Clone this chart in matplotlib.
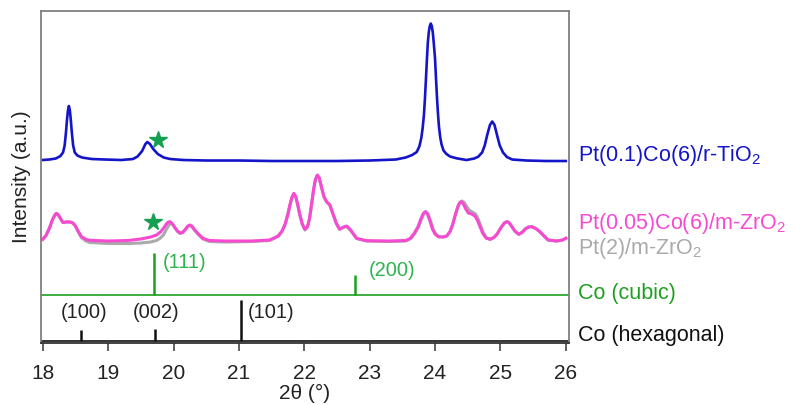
import matplotlib
matplotlib.use('Agg')
import matplotlib.pyplot as plt
import matplotlib.transforms as mtransforms

plt.rcParams['font.family'] = ['Liberation Sans', 'DejaVu Sans']
plt.rcParams['mathtext.fontset'] = 'custom'
plt.rcParams['mathtext.rm'] = 'Liberation Sans'

# y values are in arbitrary units (stacked, offset patterns)
ti_x = [18.0, 18.10, 18.20, 18.27, 18.31, 18.335, 18.355, 18.37, 18.385, 18.40, 18.415,
        18.43, 18.445, 18.465, 18.49, 18.53, 18.60, 18.75, 18.95, 19.20, 19.38, 19.45,
        19.52, 19.57, 19.60, 19.64, 19.69, 19.76, 19.85, 19.95, 20.15, 20.5, 21.0, 21.5,
        22.0, 22.5, 23.0, 23.4, 23.55, 23.65, 23.72, 23.76, 23.79, 23.81, 23.83, 23.845,
        23.86, 23.875, 23.89, 23.905, 23.92, 23.935, 23.95, 23.965, 23.98, 24.00, 24.015,
        24.03, 24.045, 24.06, 24.08, 24.10, 24.13, 24.175, 24.23, 24.33, 24.48, 24.60,
        24.66, 24.72, 24.76, 24.80, 24.84, 24.875, 24.91, 24.95, 24.99, 25.04, 25.10,
        25.18, 25.4, 25.7, 26.0]
ti_y = [182.5, 183.0, 184.0, 186.5, 190.0, 197.0, 210.0, 222.0, 232.0, 236.5, 232.0,
        222.0, 210.0, 197.0, 190.0, 187.0, 185.0, 183.5, 183.0, 182.5, 183.5, 186.0,
        191.5, 198.5, 200.5, 198.5, 193.5, 188.5, 185.0, 183.5, 182.5, 182.0, 182.0, 181.5,
        181.5, 181.5, 182.0, 183.0, 185.0, 187.5, 190.5, 196.0, 204.5, 214.0, 227.5, 243.0,
        262.0, 282.0, 300.0, 310.5, 316.5, 319.0, 316.5, 310.5, 300.0, 284.0, 264.0,
        245.0, 229.0, 216.0, 205.0, 198.0, 192.0, 188.5, 186.0, 184.2, 182.5, 184.0,
        185.8, 190.0, 197.0, 208.0, 217.5, 221.0, 217.5, 207.0, 197.0, 190.0, 185.5,
        183.0, 182.0, 181.5, 181.5]

zr_x = [18.0, 18.05, 18.10, 18.15, 18.19, 18.21, 18.24, 18.27, 18.31, 18.36, 18.42, 18.46,
        18.50, 18.54, 18.59, 18.66, 18.72, 19.0, 19.3, 19.5, 19.65, 19.74, 19.80, 19.85,
        19.89, 19.92, 19.95, 19.98, 20.02, 20.06, 20.10, 20.14, 20.18, 20.22, 20.25, 20.28,
        20.32, 20.38, 20.45, 20.55, 20.8, 21.2, 21.47, 21.6, 21.66, 21.71, 21.75, 21.78,
        21.81, 21.84, 21.87, 21.90, 21.93, 21.97, 22.01, 22.05, 22.08, 22.11, 22.14, 22.17,
        22.20, 22.23, 22.26, 22.30, 22.34, 22.39, 22.45, 22.49, 22.54, 22.60, 22.65, 22.71,
        22.80, 22.95, 23.3, 23.55, 23.62, 23.68, 23.74, 23.78, 23.82, 23.85, 23.88, 23.92,
        23.96, 24.00, 24.05, 24.12, 24.18, 24.23, 24.27, 24.31, 24.35, 24.38, 24.40, 24.43,
        24.47, 24.51, 24.56, 24.61, 24.65, 24.69, 24.73, 24.78, 24.84, 24.90, 24.95, 25.01,
        25.06, 25.10, 25.13, 25.17, 25.22, 25.28, 25.33, 25.38, 25.43, 25.48, 25.54, 25.60,
        25.66, 25.73, 25.86, 25.95, 26.0]
zr_y = [103.2, 107.0, 114.0, 123.0, 128.0, 129.2, 127.5, 124.0, 120.0, 120.5, 120.5, 119.5,
        116.5, 111.5, 106.0, 103.2, 102.2, 101.5, 102.0, 103.5, 105.5, 107.5, 110.5, 114.5,
        118.5, 120.5, 120.8, 119.0, 115.0, 111.5, 109.5, 110.0, 113.0, 116.5, 117.5, 116.5,
        113.0, 108.5, 104.2, 102.0, 101.5, 101.5, 102.5, 106.5, 111.5, 119.0, 128.5, 137.5,
        145.0, 149.2, 146.0, 138.0, 128.5, 118.5, 113.2, 116.0, 124.0, 137.5, 152.0, 163.0,
        167.5, 164.5, 156.5, 146.0, 140.8, 137.5, 126.5, 119.2, 113.5, 115.5, 116.5, 112.5,
        104.2, 101.8, 101.5, 102.0, 104.0, 109.0, 115.8, 123.0, 129.0, 130.8, 129.0, 122.0,
        113.5, 108.5, 105.8, 105.5, 106.5, 111.0, 118.0, 127.5, 136.0, 140.0, 140.8, 139.0,
        133.5, 129.5, 128.5, 126.5, 122.0, 115.5, 109.2, 104.5, 103.2, 105.0, 108.5, 115.0,
        119.5, 120.8, 120.0, 116.5, 111.5, 108.2, 110.0, 113.5, 115.5, 115.8, 114.0, 111.0,
        107.0, 102.5, 101.5, 102.5, 104.2]

# Pt(2)/m-ZrO2 reference: mostly hidden under the magenta curve
pt_x = [18.0, 18.05, 18.10, 18.15, 18.19, 18.21, 18.24, 18.27, 18.31, 18.36, 18.42, 18.46,
        18.50, 18.54, 18.59, 18.66, 18.72, 19.0, 19.3, 19.5, 19.65, 19.74, 19.80, 19.85,
        19.89, 19.93, 19.96, 19.99, 20.03, 20.07, 20.10, 20.14, 20.18, 20.22, 20.25, 20.28,
        20.32, 20.38, 20.45, 20.55, 20.8, 21.2, 21.47, 21.6, 21.66, 21.71, 21.75, 21.78,
        21.81, 21.84, 21.87, 21.90, 21.93, 21.97, 22.01, 22.05, 22.08, 22.11, 22.14, 22.17,
        22.20, 22.23, 22.26, 22.30, 22.34, 22.39, 22.45, 22.49, 22.54, 22.60, 22.65, 22.71,
        22.80, 22.95, 23.3, 23.55, 23.63, 23.69, 23.75, 23.79, 23.83, 23.86, 23.89, 23.93,
        23.97, 24.01, 24.06, 24.12, 24.18, 24.23, 24.27, 24.31, 24.35, 24.38, 24.41, 24.44,
        24.48, 24.52, 24.57, 24.62, 24.66, 24.70, 24.74, 24.79, 24.85, 24.90, 24.95, 25.01,
        25.06, 25.10, 25.13, 25.17, 25.22, 25.28, 25.33, 25.38, 25.43, 25.48, 25.54, 25.60,
        25.66, 25.73, 25.86, 25.95, 26.0]
pt_y = [103.2, 107.0, 114.0, 123.0, 128.0, 129.2, 127.5, 124.0, 120.0, 120.5, 120.5, 119.5,
        116.5, 111.0, 105.0, 101.5, 100.0, 99.0, 99.0, 99.5, 100.5, 102.0, 104.5, 108.0,
        113.0, 117.5, 119.0, 118.0, 114.0, 110.5, 109.0, 110.0, 113.0, 116.0, 117.0, 116.0,
        112.5, 108.0, 103.5, 101.0, 100.5, 101.0, 102.0, 106.0, 111.0, 118.5, 128.0, 137.0,
        144.5, 148.5, 145.5, 137.5, 128.0, 118.0, 112.5, 115.5, 123.5, 137.0, 151.5, 162.5,
        167.0, 164.0, 156.0, 146.0, 141.0, 138.0, 127.0, 119.0, 113.0, 115.0, 116.0, 112.0,
        104.0, 101.5, 101.0, 101.5, 104.0, 109.0, 115.8, 123.0, 129.0, 130.8, 129.0, 122.0,
        113.5, 108.5, 105.8, 105.5, 106.5, 111.0, 118.0, 127.5, 136.0, 140.0, 141.5, 140.5,
        136.5, 132.5, 130.5, 128.5, 123.5, 116.5, 109.5, 104.5, 103.2, 105.0, 108.5, 115.0,
        119.5, 120.8, 120.0, 116.5, 111.5, 108.2, 110.0, 113.5, 115.5, 115.8, 114.0, 111.0,
        107.0, 102.5, 101.5, 102.5, 104.2]

# reference patterns: positions, stick heights, labels
cubic_pos = [19.70, 22.78]
cubic_h = [42, 20]
cubic_lab = ['(111)', '(200)']
cubic_lab_x = [19.83, 22.98]
cubic_lab_y = [80.5, 72.5]
cubic_base = 47.5

hex_pos = [18.58, 19.71, 21.03]
hex_h = [11, 12, 41]
hex_lab = ['(100)', '(002)', '(101)']
hex_lab_x = [18.28, 19.38, 21.14]
hex_lab_y = 30
hex_base = 1.5

stars_x = [19.77, 19.68]
stars_y = [202.5, 120.5]

labels = ['Pt(0.1)Co(6)/r-TiO$_\\mathregular{2}$', 'Pt(0.05)Co(6)/m-ZrO$_\\mathregular{2}$',
          'Pt(2)/m-ZrO$_\\mathregular{2}$', 'Co (cubic)', 'Co (hexagonal)']
label_y = [187.5, 119.5, 94.5, 49.5, 7.5]

c_blue = '#1414c8'
c_pink = '#f74ad2'
c_gray = '#aaaaaa'
c_green = '#1ea01e'
c_lgreen = '#2db34f'
c_star = '#14a050'
c_black = '#111111'
label_cols = [c_blue, c_pink, c_gray, c_green, c_black]

fig = plt.figure(figsize=(7.93, 4.05), dpi=100)
ax = fig.add_axes([0.0511, 0.1543, 0.6665, 0.8185])

ax.plot(ti_x, ti_y, color=c_blue, lw=1.9, solid_joinstyle='round')
ax.plot(pt_x, pt_y, color=c_gray, lw=2.2, solid_joinstyle='round')
ax.plot(zr_x, zr_y, color=c_pink, lw=2.2, solid_joinstyle='round')

ax.axhline(cubic_base, color=c_green, lw=1.2)
ax.vlines(cubic_pos, cubic_base, [cubic_base + h for h in cubic_h], color=c_green, lw=1.8)
for lx, ly, t in zip(cubic_lab_x, cubic_lab_y, cubic_lab):
    ax.text(lx, ly, t, color=c_lgreen, fontsize=14.5, va='center')

ax.axhline(hex_base, color=c_black, lw=1.2)
ax.vlines(hex_pos, hex_base, [hex_base + h for h in hex_h], color=c_black, lw=1.8)
for lx, t in zip(hex_lab_x, hex_lab):
    ax.text(lx, hex_lab_y, t, color='#222222', fontsize=14.5, va='center')

ax.plot(stars_x, stars_y, '*', color=c_star, ms=13, mec=c_star)

trans = mtransforms.blended_transform_factory(ax.transAxes, ax.transData)
for t, yv, c in zip(labels, label_y, label_cols):
    ax.text(1.017, yv, t, color=c, fontsize=15.5, va='center', ha='left', transform=trans)

ax.set_xlim(17.966, 26.05)
ax.set_ylim(0, 331.5)
ax.set_xticks(range(18, 27))
ax.set_yticks([])
ax.tick_params(axis='x', direction='out', length=6, width=1.2, color='#444444',
               labelsize=15, pad=9.5, labelcolor='#222222')
for s in ax.spines.values():
    s.set_color('#808080')
    s.set_linewidth(1.3)
ax.spines['bottom'].set_color('#333333')

ax.set_xlabel('2θ (°)', fontsize=15, color='#222222', labelpad=1)
ax.set_ylabel('Intensity (a.u.)', fontsize=15, color='#222222', labelpad=7)

fig.savefig('out.png', dpi=100)
